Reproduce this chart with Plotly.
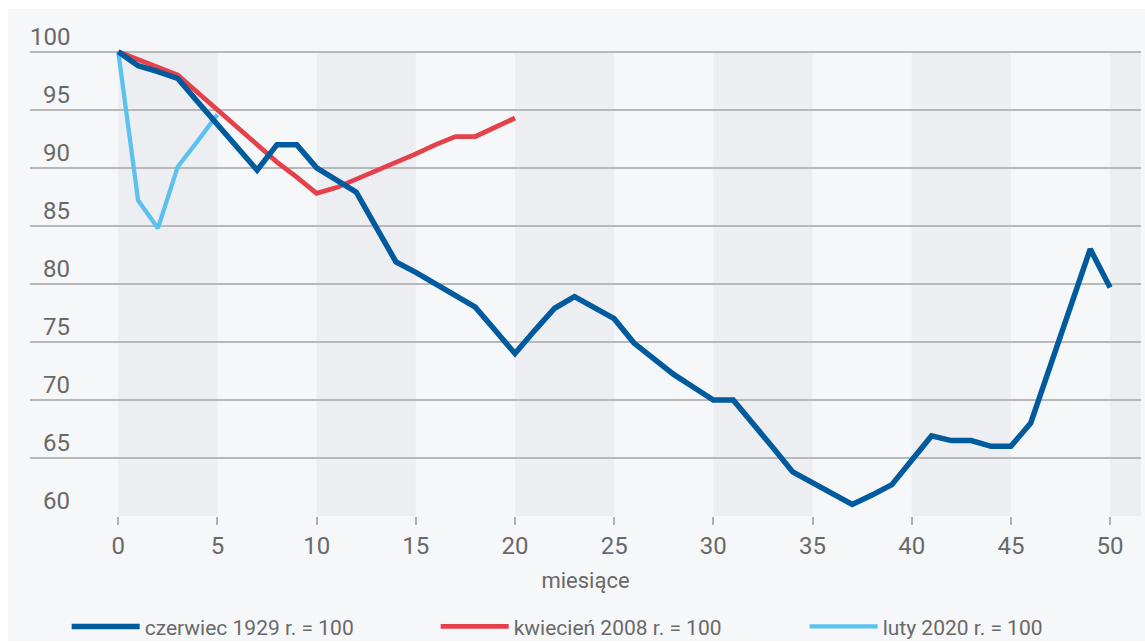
import plotly.graph_objects as go

# Months since each reference point
months_1929 = list(range(0, 51))
index_1929 = [100, 98.8, 98.3, 97.7, 95.7, 93.7, 91.8, 89.8, 92.0, 92.0,
              90.0, 89.0, 87.9, 84.9, 81.9, 81.0, 80.0, 79.0, 78.0, 76.0,
              74.0, 76.0, 77.9, 78.9, 78.0, 77.0, 74.9, 73.6, 72.2, 71.1,
              70.0, 70.0, 68.0, 65.9, 63.8, 62.9, 62.0, 61.0, 61.8, 62.7,
              64.8, 66.9, 66.5, 66.5, 66.0, 66.0, 68.0, 73.0, 78.0, 83.0,
              79.7]

months_2008 = list(range(0, 21))
index_2008 = [100, 99.3, 98.6, 98.0, 96.5, 95.0, 93.5, 92.0, 90.5, 89.2,
              87.8, 88.3, 89.0, 89.7, 90.5, 91.2, 92.0, 92.7, 92.7, 93.5,
              94.3]

months_2020 = [0, 1, 2, 3, 4, 5]
index_2020 = [100, 87.2, 84.8, 90.1, 92.3, 94.6]

series_names = ["czerwiec 1929 r. = 100", "kwiecień 2008 r. = 100", "luty 2020 r. = 100"]
series_colors = ["#005a9e", "#e5414b", "#5bc2f0"]

x_ticks = list(range(0, 51, 5))
y_ticks = list(range(60, 101, 5))
x_title = "miesiące"

# shaded month bands start every 10 months
band_starts = list(range(0, 51, 10))

X_MIN, X_MAX = -4.45, 51.56
Y_MIN, Y_MAX = 60, 103

FONT = "Roboto"
TEXT_COLOR = "#696969"
GRID_COLOR = "#b8b8b8"
PANEL = "#f6f7f9"
BAND = "#edeef2"

fig = go.Figure()

# drawing order: light blue, red, dark blue on top; legend order via legendrank
fig.add_trace(go.Scatter(x=months_2020, y=index_2020, mode="lines", name=series_names[2],
                         line=dict(color=series_colors[2], width=4.3), legendrank=3))
fig.add_trace(go.Scatter(x=months_2008, y=index_2008, mode="lines", name=series_names[1],
                         line=dict(color=series_colors[1], width=4.8), legendrank=2))
fig.add_trace(go.Scatter(x=months_1929, y=index_1929, mode="lines", name=series_names[0],
                         line=dict(color=series_colors[0], width=5.5), legendrank=1))

shapes = [
    # light panel behind the whole chart
    dict(type="rect", xref="paper", yref="paper", x0=-0.0198, x1=1.01, y0=-0.2505, y1=1.016,
         fillcolor=PANEL, line=dict(width=0), layer="below"),
]
for b in band_starts:
    shapes.append(dict(type="rect", xref="x", yref="y", x0=b, x1=min(b + 5, X_MAX),
                       y0=60, y1=100, fillcolor=BAND, line=dict(width=0), layer="below"))

annotations = []
for v in y_ticks:
    annotations.append(dict(x=-2.33, y=v, xref="x", yref="y", text=str(v), showarrow=False,
                            xanchor="right", yanchor="bottom", yshift=-1,
                            font=dict(family=FONT, size=24, color=TEXT_COLOR)))

fig.update_layout(
    width=1145, height=643,
    margin=dict(l=30, r=4, t=17, b=127, autoexpand=False),
    paper_bgcolor="white",
    plot_bgcolor="rgba(0,0,0,0)",
    shapes=shapes,
    annotations=annotations,
    showlegend=True,
    legend=dict(orientation="h", x=0.033, xanchor="left", y=-0.222, yanchor="middle",
                font=dict(family=FONT, size=21, color=TEXT_COLOR),
                itemwidth=68, entrywidth=286, entrywidthmode="pixels",
                bgcolor="rgba(0,0,0,0)", traceorder="normal"),
    xaxis=dict(range=[X_MIN, X_MAX], tickvals=x_ticks, ticktext=[str(t) for t in x_ticks],
               showgrid=False, zeroline=False, showline=False,
               ticks="outside", ticklen=8, tickwidth=1.5, tickcolor="#b0b0b0",
               tickfont=dict(family=FONT, size=24, color=TEXT_COLOR),
               title=dict(text=x_title, font=dict(family=FONT, size=22, color=TEXT_COLOR),
                          standoff=13)),
    yaxis=dict(range=[Y_MIN, Y_MAX], tickvals=y_ticks, showticklabels=False,
               showgrid=True, gridcolor=GRID_COLOR, gridwidth=1.5,
               zeroline=False, showline=False, ticks=""),
)

fig.write_html("out.html")
